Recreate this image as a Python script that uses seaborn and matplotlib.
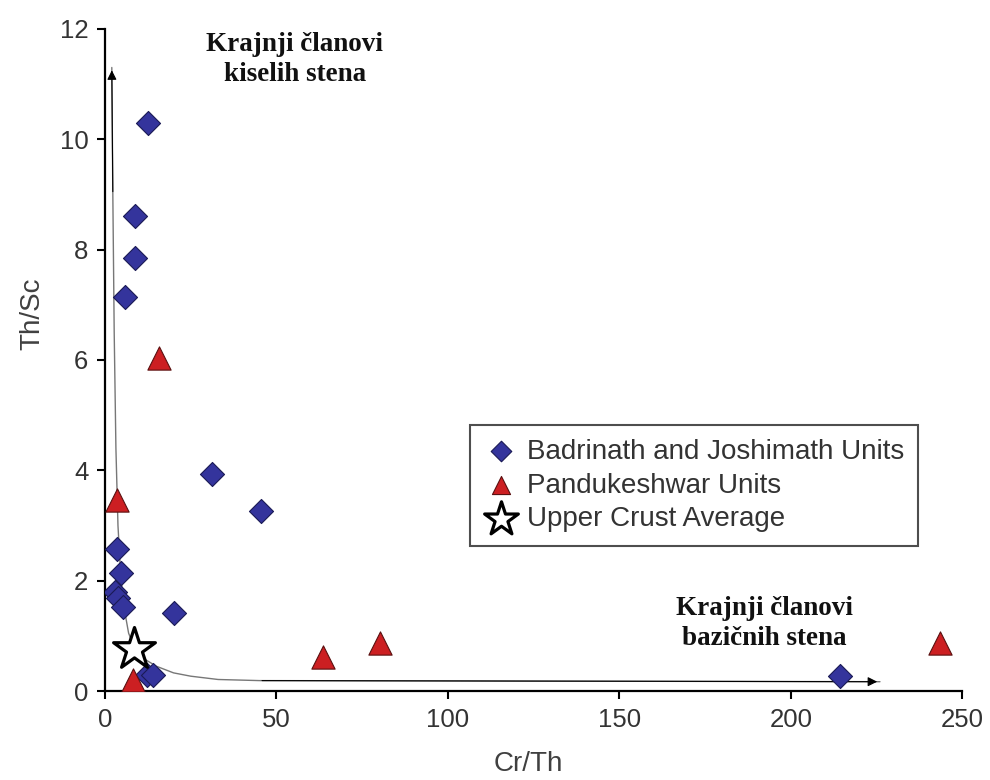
import matplotlib
matplotlib.use("Agg")
import matplotlib.pyplot as plt
import seaborn as sns
import pandas as pd

# Badrinath and Joshimath Units (Cr/Th, Th/Sc)
bj_cr_th = [12.5, 8.7, 8.7, 5.8, 31.2, 45.5, 3.5, 4.7, 2.9, 3.8, 5.2, 20.1, 12.2, 14.0, 214.3]
bj_th_sc = [10.3, 8.6, 7.85, 7.14, 3.93, 3.26, 2.57, 2.14, 1.79, 1.69, 1.52, 1.41, 0.29, 0.29, 0.28]

# Pandukeshwar Units
pk_cr_th = [15.7, 3.5, 8.2, 63.6, 80.2, 243.4]
pk_th_sc = [6.04, 3.46, 0.2, 0.62, 0.87, 0.87]

# Upper Crust Average
uc_cr_th = [8.5]
uc_th_sc = [0.76]

# mixing curve
curve_x = [2.0, 2.3, 2.7, 3.2, 3.8, 4.6, 5.6, 6.9, 8.5, 11.0, 15.0, 20.0, 25.0, 33.0, 45.0, 226.0]
curve_y = [11.3, 9.0, 6.5, 4.4, 3.0, 2.1, 1.5, 1.05, 0.8, 0.6, 0.45, 0.33, 0.27, 0.21, 0.19, 0.17]

sns.set_theme(style="white")
plt.rcParams['font.family'] = ['Liberation Sans', 'DejaVu Sans']

fig = plt.figure(figsize=(9.9, 7.8), dpi=100)
ax = fig.add_axes([0.106, 0.114, 0.866, 0.849])

curve = pd.DataFrame({'x': curve_x, 'y': curve_y})
sns.lineplot(data=curve, x='x', y='y', sort=False, ax=ax, color='#777777', lw=1.0)
# arrow heads at both ends
ax.annotate('', xy=(curve_x[0], curve_y[0]), xytext=(curve_x[1], curve_y[1]),
            arrowprops=dict(arrowstyle='-|>', color='black', lw=0.8, mutation_scale=14))
ax.annotate('', xy=(curve_x[-1], curve_y[-1]), xytext=(curve_x[-2], curve_y[-2]),
            arrowprops=dict(arrowstyle='-|>', color='black', lw=0.8, mutation_scale=14))

sns.scatterplot(x=bj_cr_th, y=bj_th_sc, marker='D', s=150, color='#34349C',
                edgecolor='#1a1a55', linewidth=0.8, ax=ax, zorder=3,
                label='Badrinath and Joshimath Units')
sns.scatterplot(x=pk_cr_th, y=pk_th_sc, marker='^', s=280, color='#CC1F22',
                edgecolor='#5a1010', linewidth=0.8, ax=ax, zorder=3,
                label='Pandukeshwar Units')
sns.scatterplot(x=uc_cr_th, y=uc_th_sc, marker='*', s=1000, color='white',
                edgecolor='black', linewidth=2.3, ax=ax, zorder=4,
                label='Upper Crust Average')

ax.set_xlim(0, 250)
ax.set_ylim(0, 12)
ax.set_xticks([0, 50, 100, 150, 200, 250])
ax.set_yticks([0, 2, 4, 6, 8, 10, 12])
ax.tick_params(axis='both', direction='out', length=6, width=1.5, color='black',
               labelsize=18.5, labelcolor='#333333', bottom=True, left=True, pad=6)
for side in ['top', 'right']:
    ax.spines[side].set_visible(False)
for side in ['left', 'bottom']:
    ax.spines[side].set_color('black')
    ax.spines[side].set_linewidth(1.6)

ax.set_xlabel('Cr/Th', fontsize=20, color='#404040')
ax.set_ylabel('Th/Sc', fontsize=20, color='#404040')
ax.xaxis.set_label_coords(0.494, -0.09)
ax.yaxis.set_label_coords(-0.07, 0.57)

serif = ['Liberation Serif', 'DejaVu Serif']
ax.text(55.4, 11.45, 'Krajnji članovi\nkiselih stena', ha='center', va='center',
        fontsize=19.5, fontweight='bold', family=serif, linespacing=1.25, color='#111111')
ax.text(192.4, 1.22, 'Krajnji članovi\nbazičnih stena', ha='center', va='center',
        fontsize=19.5, fontweight='bold', family=serif, linespacing=1.25, color='#111111')

leg = ax.legend(loc='upper left', bbox_to_anchor=(0.426, 0.402), borderaxespad=0,
                fontsize=20, frameon=True, fancybox=False, edgecolor='#222222',
                handletextpad=0.35, borderpad=0.5, labelspacing=0.28,
                handlelength=1.2, labelcolor='#333333')
leg.get_frame().set_linewidth(1.5)
for h, s in zip(leg.legend_handles, [110, 170, 650]):
    h.set_sizes([s])

fig.savefig('out.png', dpi=100)
